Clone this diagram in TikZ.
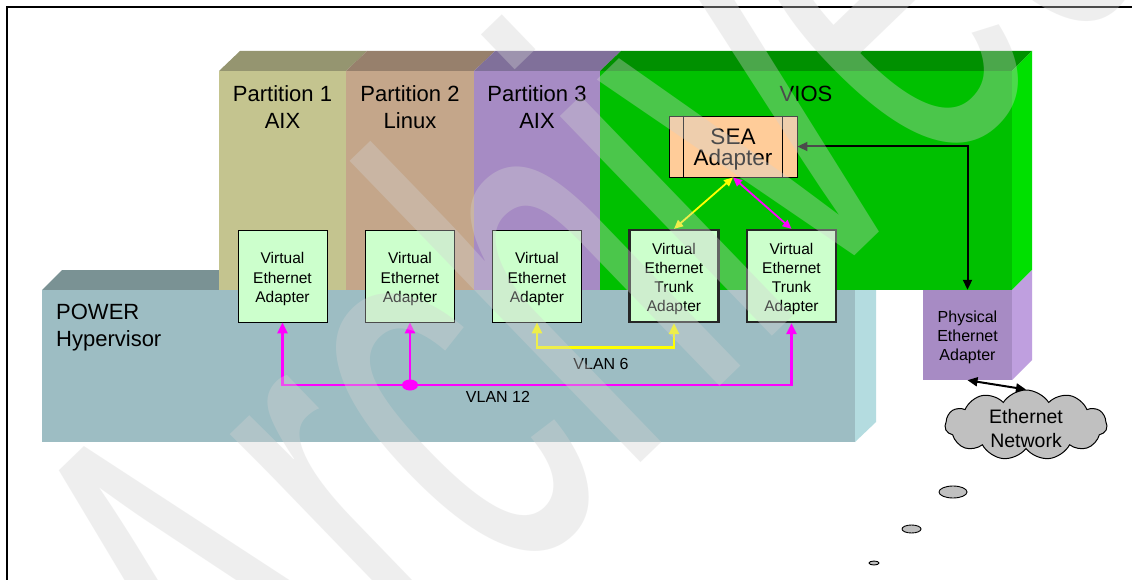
\documentclass[tikz,border=0pt]{standalone}
\usepackage{fontspec}
\setmainfont{Liberation Sans}
\usetikzlibrary{arrows.meta,shapes.symbols,shapes.geometric}
\definecolor{pOne}{RGB}{196,196,143}
\definecolor{pOneTop}{RGB}{149,149,112}
\definecolor{pTwo}{RGB}{196,166,138}
\definecolor{pTwoTop}{RGB}{151,128,108}
\definecolor{pThree}{RGB}{166,139,196}
\definecolor{pThreeTop}{RGB}{128,112,154}
\definecolor{viosFront}{RGB}{0,192,0}
\definecolor{viosTop}{RGB}{0,144,0}
\definecolor{viosSide}{RGB}{0,224,0}
\definecolor{hypFront}{RGB}{157,189,195}
\definecolor{hypTop}{RGB}{122,146,148}
\definecolor{hypSide}{RGB}{180,220,224}
\definecolor{physFront}{RGB}{167,139,196}
\definecolor{physSide}{RGB}{191,159,223}
\definecolor{veagreen}{RGB}{204,255,204}
\definecolor{seapeach}{RGB}{255,204,153}
\definecolor{cloudgray}{RGB}{192,192,192}
\definecolor{wmgray}{RGB}{210,210,210}
\definecolor{vmag}{RGB}{255,0,255}
\definecolor{vyel}{RGB}{255,255,0}
\tikzset{
  biglabel/.style={font=\fontsize{22}{27}\selectfont, align=center, inner sep=0pt},
  vea/.style={draw=black, line width=0.9pt, fill=veagreen, minimum width=89pt, minimum height=92pt, inner sep=0pt},
  trunkbox/.style={vea, line width=2.2pt, draw=black!85},
  veatext/.style={inner sep=0pt, align=center, font=\fontsize{15.5}{19.2}\selectfont},
  smalllabel/.style={font=\fontsize{16}{19}\selectfont, align=center, inner sep=0pt},
  magline/.style={draw=vmag, line width=2.6pt, -{Triangle[length=11pt,width=10pt]}},
  yelline/.style={draw=vyel, line width=2.6pt, {Triangle[length=11pt,width=10pt]}-{Triangle[length=11pt,width=10pt]}},
  magthin/.style={draw=vmag, line width=1.8pt, {Triangle[length=9pt,width=8pt]}-{Triangle[length=9pt,width=8pt]}},
  yelthin/.style={draw=vyel, line width=1.8pt, {Triangle[length=9pt,width=8pt]}-{Triangle[length=9pt,width=8pt]}},
  blkline/.style={draw=black, line width=2pt, {Triangle[length=10pt,width=9pt]}-{Triangle[length=10pt,width=9pt]}},
  bubble/.style={ellipse, draw=black, line width=0.9pt, fill=cloudgray, inner sep=0pt}
}
\begin{document}
\begin{tikzpicture}[x=1pt,y=-1pt]
\useasboundingbox (0,0) rectangle (1132,580);
\fill[white] (0,0) rectangle (1132,580);
\clip (0,0) rectangle (1132,580);
% frame
\draw[line width=1.1pt] (7,580) -- (7,7) -- (1132,7);
% hypervisor top and side (behind)
\fill[hypTop] (42,290) -- (62,270) -- (876,270) -- (855,290) -- cycle;
\fill[hypSide] (855,290) -- (876,270) -- (876,422) -- (855,442) -- cycle;
% partition tops
\fill[pOneTop] (219,71) -- (240,51) -- (367,51) -- (346,71) -- cycle;
\fill[pTwoTop] (346,71) -- (367,51) -- (495,51) -- (474,71) -- cycle;
\fill[pThreeTop] (474,71) -- (495,51) -- (621,51) -- (600,71) -- cycle;
\fill[viosTop] (600,71) -- (621,51) -- (1032,51) -- (1012,71) -- cycle;
% partition fronts
\fill[pOne] (219,71) rectangle (346,290);
\fill[pTwo] (346,71) rectangle (474,290);
\fill[pThree] (474,71) rectangle (600,290);
\fill[viosFront] (600,71) rectangle (1012,290);
\fill[viosSide] (1012,71) -- (1032,51) -- (1032,270) -- (1012,290) -- cycle;
% physical adapter side
\fill[physSide] (1012,290) -- (1032,270) -- (1032,360) -- (1012,380) -- cycle;
% hypervisor front
\fill[hypFront] (42,290) rectangle (855,442);

% labels
\node[biglabel] (p1) at (282.5,107.5) {Partition 1\\AIX};
\node[biglabel] (p2) at (410,107.5) {Partition 2\\Linux};
\node[biglabel] (p3) at (537,107.5) {Partition 3\\AIX};
\node[biglabel] (vios) at (806,94) {VIOS};
\node[biglabel, align=left, anchor=west] (hyp) at (56,328) {POWER\\Hypervisor};

% SEA adapter
\node[draw=black, line width=0.9pt, fill=seapeach, minimum width=128pt, minimum height=61pt, inner sep=0pt] (sea) at (733,146.5) {};
\draw[line width=0.9pt] ([xshift=15pt]sea.north west) -- ([xshift=15pt]sea.south west);
\draw[line width=0.9pt] ([xshift=-15pt]sea.north east) -- ([xshift=-15pt]sea.south east);
\node[inner sep=0pt, align=center, font=\fontsize{22.5}{21}\selectfont] (seatext) at ([yshift=-3pt]sea.center) {SEA\\Adapter};

% virtual adapters
\node[vea] (vea1) at (282.5,276) {};
\node[vea] (vea2) at (410,276) {};
\node[vea] (vea3) at (537,276) {};
\node[trunkbox] (trunk1) at (674,276) {};
\node[trunkbox] (trunk2) at (791.5,276) {};
\node[veatext] (vea1t) at ([yshift=-3pt]vea1.center) {Virtual\\Ethernet\\Adapter};
\node[veatext] (vea2t) at ([yshift=-3pt]vea2.center) {Virtual\\Ethernet\\Adapter};
\node[veatext] (vea3t) at ([yshift=-3pt]vea3.center) {Virtual\\Ethernet\\Adapter};
\node[veatext] (trunk1t) at ([yshift=-3pt]trunk1.center) {Virtual\\Ethernet\\Trunk\\Adapter};
\node[veatext] (trunk2t) at ([yshift=-3pt]trunk2.center) {Virtual\\Ethernet\\Trunk\\Adapter};

% physical adapter
\node[fill=physFront, minimum width=89pt, minimum height=90pt, inner sep=0pt] (phys) at (967.5,335) {};
\node[smalllabel] (physt) at ([yshift=-2pt]phys.center) {Physical\\Ethernet\\Adapter};

% cloud and bubbles
\node[cloud, cloud puffs=11, cloud puff arc=115, aspect=2.3, draw=black, line width=1pt, fill=cloudgray,
  minimum width=162pt, minimum height=70pt, inner sep=0pt] (net) at (1026,425) {};
\node[inner sep=0pt, align=center, font=\fontsize{19.5}{24}\selectfont] (nett) at ([yshift=-4pt]net.center) {Ethernet\\Network};
\node[bubble, minimum width=28pt, minimum height=12pt] (b1) at (953,492) {};
\node[bubble, minimum width=19pt, minimum height=8pt] (b2) at (911.5,529) {};
\node[bubble, minimum width=10pt, minimum height=4pt] (b3) at (874,563) {};

% VLAN 12
\node[ellipse, fill=vmag, minimum width=16pt, minimum height=11pt, inner sep=0pt] (j12) at (410,385) {};
\draw[magline] (j12.center) -| (vea1.south);
\draw[magline] (j12.center) -- (vea2.south);
\draw[magline] (j12.center) -| (trunk2.south);
\node[smalllabel] (l12) at (498,397) {VLAN 12};

% VLAN 6
\draw[yelline] (vea3.south) -- ++(0,25) -| (trunk1.south);
\node[smalllabel] (l6) at (601,364) {VLAN 6};

% SEA connections
\draw[yelthin] (sea.south) -- (trunk1.north);
\draw[magthin] (sea.south) -- (trunk2.north);
\draw[blkline] (sea.east) -| (phys.north);
\draw[blkline] (phys.south) -- (net.north);

% watermark
\node[rotate=44, anchor=base west, text=wmgray, opacity=0.36, inner sep=0pt,
  font=\fontsize{578}{578}\selectfont] (wm) at (268.7,822) {\scalebox{0.57}[1]{Archived}};
\end{tikzpicture}
\end{document}
